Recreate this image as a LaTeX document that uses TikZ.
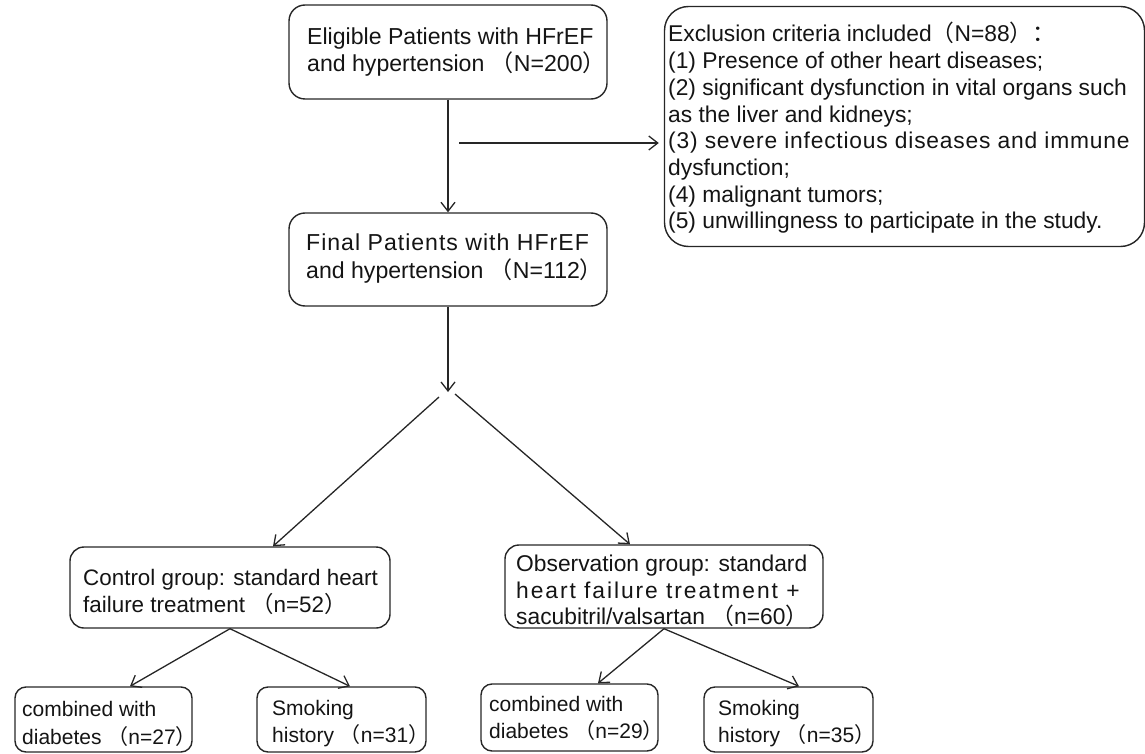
\documentclass[tikz,border=0pt]{standalone}
\usepackage{fontspec}
\setmainfont{Liberation Sans}
\newfontfamily\cjkfont{Noto Sans CJK SC}
\usetikzlibrary{arrows.meta,calc}
\newcommand\zlp{{\cjkfont （}}
\newcommand\zrp{{\cjkfont ）}}
\newcommand\zcolon{{\cjkfont ：}}
\begin{document}
\begin{tikzpicture}[x=1pt,y=-1pt,
  font=\fontsize{22.8}{28}\selectfont,
  box/.style={draw=black!85, line width=1.4pt, rounded corners=#1, inner sep=0pt},
  box/.default=14pt,
  txt/.style={align=left, inner sep=0pt, anchor=west, text=black!92},
  arr/.style={draw=black!85, line width=1.3pt, -{Straight Barb[length=9pt,width=14pt,line width=1.3pt]}}]
\useasboundingbox (0,0) rectangle (1145,754);

% boxes
\node[box=16pt, minimum width=318pt, minimum height=94pt] (b1) at (448,52) {};
\node[box=16pt, minimum width=318pt, minimum height=93pt] (b2) at (448,259.5) {};
\node[box=24pt, minimum width=480pt, minimum height=240pt] (excl) at (904.5,126.5) {};
\node[box=14pt, minimum width=320pt, minimum height=81pt] (ctrl) at (230,587.5) {};
\node[box=14pt, minimum width=318pt, minimum height=83pt] (obs) at (664,586.5) {};
\node[box=11pt, minimum width=177pt, minimum height=65pt] (c1) at (103.5,719.5) {};
\node[box=11pt, minimum width=169pt, minimum height=65pt] (c2) at (341.5,719.5) {};
\node[box=11pt, minimum width=177pt, minimum height=67pt] (o1) at (569.5,717.5) {};
\node[box=11pt, minimum width=169pt, minimum height=65pt] (o2) at (788.5,719.5) {};

% texts
\node[txt, font=\fontsize{23.1}{27}\selectfont] (b1t) at (307,52) {Eligible Patients with HFrEF\\and hypertension \zlp N=200\zrp};
\node[txt, font=\fontsize{23.1}{28}\selectfont] (b2t) at (306,259) {{\addfontfeature{LetterSpace=4.3}Final Patients with HFrEF}\\and hypertension \zlp N=112\zrp};
\node[txt, font=\fontsize{22.8}{26.7}\selectfont] (exclt) at (668,128) {Exclusion criteria included\zlp N=88\zrp\zcolon\\
(1) Presence of other heart diseases;\\
(2) significant dysfunction in vital organs such\\
as the liver and kidneys;\\
{\addfontfeature{LetterSpace=3.5}(3) severe infectious diseases and immune}\\
dysfunction;\\
(4) malignant tumors;\\
(5) unwillingness to participate in the study.};
\node[txt, font=\fontsize{22.4}{27}\selectfont] (ctrlt) at (83,592) {Control group: standard heart\\failure treatment \zlp n=52\zrp};
\node[txt, font=\fontsize{22.8}{26.5}\selectfont] (obst) at (516,591) {Observation group: standard\\{\addfontfeature{LetterSpace=8.5}heart failure treatment +}\\sacubitril/valsartan \zlp n=60\zrp};
\node[txt, font=\fontsize{21}{28}\selectfont] (c1t) at (22,724) {combined with\\diabetes \zlp n=27\zrp};
\node[txt, font=\fontsize{21}{27}\selectfont] (c2t) at (272,723.5) {Smoking\\history \zlp n=31\zrp};
\node[txt, font=\fontsize{21}{27}\selectfont] (o1t) at (489,718.5) {combined with\\diabetes \zlp n=29\zrp};
\node[txt, font=\fontsize{21}{27}\selectfont] (o2t) at (718,723.5) {Smoking\\history \zlp n=35\zrp};

% connectors
\coordinate (hs) at (459,143);
\coordinate (sp) at (448,392);
\coordinate (spl) at (439,397);
\coordinate (spr) at (455,394);
\draw[arr] (b1.south) -- (b2.north);
\draw[arr, shorten >=5pt] (hs) -- (excl.west |- hs);
\draw[arr] (b2.south) -- (sp);
\draw[arr] (spl) -- (ctrl.north -| 273,0);
\draw[arr] (spr) -- (obs.north -| 630,0);
\draw[arr] (ctrl.south) -- (c1.north -| 130,0);
\draw[arr] (ctrl.south) -- (c2.north -| 350,0);
\draw[arr] (obs.south) -- (o1.north -| 598,0);
\draw[arr] (obs.south) -- (o2.north -| 799,0);
\end{tikzpicture}
\end{document}
